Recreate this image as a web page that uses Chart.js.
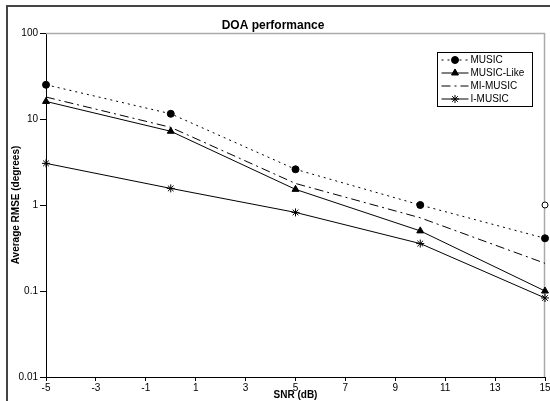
<!DOCTYPE html>
<html>
<head>
<meta charset="utf-8">
<script src="https://cdn.jsdelivr.net/npm/chart.js@4/dist/chart.umd.min.js"></script>
<style>
    html, body { margin: 0; padding: 0; background: #fff; }
    #wrap { width: 550px; height: 401px; }
</style>
</head>
<body>
<div id="wrap"><canvas id="chart" width="550" height="401"></canvas></div>
<script>
// SNR values (dB) and RMSE (degrees)
const snr = [-5, 0, 5, 10, 15];
const music = [25, 11.5, 2.6, 1.0, 0.41];
const musicLike = [16, 7.2, 1.52, 0.5, 0.1];
const miMusic = [18, 8.0, 1.78, 0.71, 0.21];
const iMusic = [3.05, 1.56, 0.82, 0.356, 0.083];
const extraPoint = [{x: 15, y: 1.0}];

const xTicks = [-5, -3, -1, 1, 3, 5, 7, 9, 11, 13, 15];
const yTicks = [0.01, 0.1, 1, 10, 100];

const FONT = 'Arial, "Liberation Sans", sans-serif';

function toPoints(values) {
    return snr.map((x, i) => ({x: x, y: values[i]}));
}

// page frame + plot area border (Excel look)
const framePlugin = {
    id: 'frame',
    beforeDraw(chart) {
        const ctx = chart.ctx;
        ctx.save();
        ctx.fillStyle = '#fff';
        ctx.fillRect(0, 0, chart.width, chart.height);
        ctx.strokeStyle = '#444';
        ctx.lineWidth = 2;
        ctx.strokeRect(7, 6, 700, 600);
        ctx.restore();
    },
    beforeDatasetsDraw(chart) {
        const a = chart.chartArea;
        const ctx = chart.ctx;
        ctx.save();
        ctx.strokeStyle = '#aaa';
        ctx.lineWidth = 1.5;
        ctx.beginPath();
        ctx.moveTo(a.left, a.top + 0.5);
        ctx.lineTo(a.right - 0.5, a.top + 0.5);
        ctx.lineTo(a.right - 0.5, a.bottom);
        ctx.stroke();
        ctx.restore();
    }
};

// legend box drawn inside the plot, like the original
const boxLegendPlugin = {
    id: 'boxLegend',
    afterDraw(chart) {
        const ctx = chart.ctx;
        const sets = chart.data.datasets.filter(d => d.inLegend);
        const left = 437.5, top = 52.5, w = 95, rowH = 13;
        ctx.save();
        ctx.fillStyle = '#fff';
        ctx.fillRect(left, top, w, rowH * sets.length + 2);
        ctx.strokeStyle = '#000';
        ctx.lineWidth = 1;
        ctx.strokeRect(left, top, w, rowH * sets.length + 2);
        sets.forEach((ds, i) => {
            const y = top + 7.5 + i * rowH;
            ctx.strokeStyle = '#000';
            ctx.lineWidth = 1;
            ctx.setLineDash(ds.borderDash || []);
            ctx.beginPath();
            ctx.moveTo(left + 4, y);
            ctx.lineTo(left + 31, y);
            ctx.stroke();
            ctx.setLineDash([]);
            if (ds.pointRadius > 0) {
                Chart.helpers.drawPoint(ctx, {
                    pointStyle: ds.pointStyle,
                    radius: ds.pointRadius,
                    borderWidth: 1
                }, left + 17.5, y);
                ctx.fillStyle = '#000';
                ctx.fill();
            }
            ctx.fillStyle = '#000';
            ctx.font = '10px ' + FONT;
            ctx.textBaseline = 'middle';
            ctx.fillText(ds.label, left + 33, y + 0.5);
        });
        ctx.restore();
    }
};

const ctx = document.getElementById('chart').getContext('2d');
new Chart(ctx, {
    type: 'line',
    data: {
        datasets: [
            {
                label: 'MUSIC', inLegend: true,
                data: toPoints(music),
                borderColor: '#000', borderWidth: 1, borderDash: [2, 4],
                pointStyle: 'circle', pointRadius: 3.5,
                pointBackgroundColor: '#000', pointBorderColor: '#000'
            },
            {
                label: 'MUSIC-Like', inLegend: true,
                data: toPoints(musicLike),
                borderColor: '#000', borderWidth: 1,
                pointStyle: 'triangle', pointRadius: 4,
                pointBackgroundColor: '#000', pointBorderColor: '#000'
            },
            {
                label: 'MI-MUSIC', inLegend: true,
                data: toPoints(miMusic),
                borderColor: '#000', borderWidth: 1, borderDash: [9, 4, 2, 4],
                pointRadius: 0
            },
            {
                label: 'I-MUSIC', inLegend: true,
                data: toPoints(iMusic),
                borderColor: '#000', borderWidth: 1,
                pointStyle: 'star', pointRadius: 4,
                pointBackgroundColor: '#000', pointBorderColor: '#000'
            },
            {
                label: '', inLegend: false,
                data: extraPoint,
                showLine: false,
                pointStyle: 'circle', pointRadius: 3,
                pointBackgroundColor: '#fff', pointBorderColor: '#000', pointBorderWidth: 1
            }
        ]
    },
    options: {
        responsive: false,
        animation: false,
        clip: false,
        layout: { padding: { left: 0, right: 4, top: 0, bottom: 0 } },
        plugins: {
            legend: { display: false },
            tooltip: { enabled: false },
            title: {
                display: true,
                text: 'DOA performance',
                color: '#000',
                font: { family: FONT, size: 12, weight: 'bold' },
                padding: { top: 18, bottom: 0.6 }
            }
        },
        scales: {
            x: {
                type: 'linear',
                min: -5, max: 15,
                afterBuildTicks: (scale) => { scale.ticks = xTicks.map(v => ({value: v})); },
                afterFit: (scale) => { scale.height = 24; scale.paddingRight = 0; scale.paddingLeft = 0; },
                grid: { drawOnChartArea: false, tickLength: 4, color: '#000' },
                border: { color: '#000', width: 1 },
                ticks: {
                    color: '#000', padding: 1, maxRotation: 0, autoSkip: false,
                    font: { family: FONT, size: 10 }
                },
                title: {
                    display: true, text: 'SNR (dB)', color: '#000',
                    font: { family: FONT, size: 10, weight: 'bold' },
                    padding: { top: 0, bottom: 0 }
                }
            },
            y: {
                type: 'logarithmic',
                min: 0.01, max: 100,
                afterBuildTicks: (scale) => { scale.ticks = yTicks.map(v => ({value: v})); },
                afterFit: (scale) => { scale.width = 46; },
                grid: { drawOnChartArea: false, tickLength: 6, color: '#000' },
                border: { color: '#000', width: 1 },
                ticks: {
                    color: '#000', padding: 2, autoSkip: false,
                    font: { family: FONT, size: 10 },
                    callback: (v) => String(v)
                },
                title: {
                    display: true, text: 'Average RMSE (degrees)', color: '#000',
                    font: { family: FONT, size: 10, weight: 'bold' },
                    padding: { top: 10, bottom: 0 }
                }
            }
        }
    },
    plugins: [framePlugin, boxLegendPlugin]
});
</script>
</body>
</html>
